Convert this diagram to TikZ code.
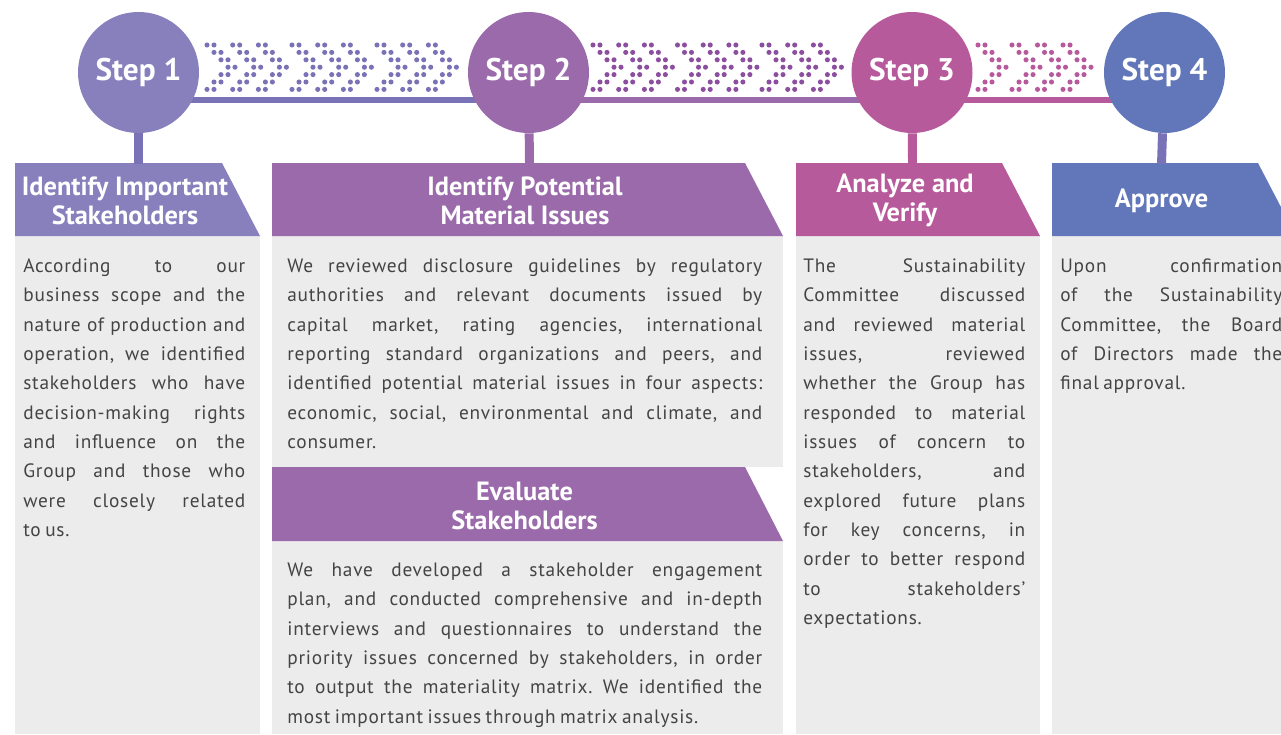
\documentclass[tikz,border=0pt]{standalone}
\usepackage{fontspec}
\setmainfont{PT Sans}
\newfontfamily\bodyfont[LetterSpace=4,WordSpace=0.75]{PT Sans}
\usetikzlibrary{positioning}
\definecolor{stepA}{HTML}{8780BD}
\definecolor{lineA}{HTML}{7A72B6}
\definecolor{stepB}{HTML}{9A6AAB}
\definecolor{dotB}{HTML}{8C4F9F}
\definecolor{stepC}{HTML}{B75A9B}
\definecolor{stepD}{HTML}{6177B9}
\definecolor{boxgray}{HTML}{ECECEC}
\definecolor{bodygray}{HTML}{444444}
\newcommand{\bodyfmt}{\bodyfont\fontsize{11}{16.7}\selectfont\frenchspacing\tolerance 10000 \hyphenpenalty 10000 }
\tikzset{
	stepcirc/.style={circle, minimum size=2.42cm, inner sep=0pt, text=white, font=\fontsize{17.8}{17.8}\selectfont\bfseries},
	headtext/.style={align=center, text=white, inner sep=0pt, font=\fontsize{15}{16.5}\selectfont\bfseries},
	bodytext/.style={anchor=base west, inner sep=0pt, align=justify, text=bodygray, text width=4.44cm, font=\bodyfmt},
	link/.style={line width=3.4pt},
	stem/.style={line width=5.1pt}
}
\newcommand{\dotchev}[2]{%
	\foreach \k in {0,...,6} {
		\pgfmathsetmacro{\m}{3-abs(\k-3)}
		\fill[#2] (#1+7*\m,45+7.4*\k) circle (1.45pt) (#1+7*\m+7,45+7.4*\k) circle (1.45pt);
	}}

\begin{document}
\begin{tikzpicture}[x=0.02cm, y=-0.02cm]
		\useasboundingbox (0,0) rectangle (1281,734);
		\clip (0,0) rectangle (1281,734);

		\fill[boxgray] (15,236) rectangle (260,734);
		\fill[boxgray] (272,236) rectangle (783,467);
		\fill[boxgray] (272,541) rectangle (783,734);
		\fill[boxgray] (796,236) rectangle (1040,734);
		\fill[boxgray] (1052,236) rectangle (1281,734);

		\fill[stepA] (15,163) -- (222,163) -- (260,236) -- (15,236) -- cycle;
		\fill[stepB] (272,163) -- (745,163) -- (783,236) -- (272,236) -- cycle;
		\fill[stepB] (272,467) -- (745,467) -- (783,541) -- (272,541) -- cycle;
		\fill[stepC] (796,163) -- (1002,163) -- (1040,236) -- (796,236) -- cycle;
		\fill[stepD] (1052,163) -- (1258,163) -- (1296,236) -- (1052,236) -- cycle;

		\coordinate (a1) at (138.5,100);
		\coordinate (a2) at (528.5,100);
		\coordinate (a3) at (912,100);
		\coordinate (a4) at (1164.5,100);
		\draw[link, lineA] (a1) -- (a2);
		\draw[link, stepB] (a2) -- (a3);
		\draw[link, stepC] (a3) -- (a4);

		\foreach \g in {0,1,2} \foreach \c in {0,1,2} {\dotchev{207+85*\g+25.7*\c}{lineA}}
		\foreach \g in {0,1,2} \foreach \c in {0,1,2} {\dotchev{593+84.5*\g+25.7*\c}{dotB}}
		\foreach \x in {978,1012,1037.5,1063} {\dotchev{\x}{stepC}}

		\node[stepcirc, fill=stepA] (s1) at (138.5,72.5) {Step 1};
		\node[stepcirc, fill=stepB] (s2) at (528.5,72.5) {Step 2};
		\node[stepcirc, fill=stepC] (s3) at (912,72.5) {Step 3};
		\node[stepcirc, fill=stepD] (s4) at (1164.5,72.5) {Step 4};

		\coordinate (t1) at (138.5,164);
		\coordinate (t2) at (529.5,164);
		\coordinate (t3) at (912.5,164);
		\coordinate (t4) at (1161.5,164);
		\draw[stem, lineA] (s1) -- (t1);
		\draw[stem, stepB] (s2) -- (t2);
		\draw[stem, stepC] (s3) -- (t3);
		\draw[stem, lineA] (s4) -- (t4);

		\node[headtext] (h1) at (125,200.5) {Identify Important\\Stakeholders};
		\node[headtext] (h2) at (525,200.5) {Identify Potential\\Material Issues};
		\node[headtext] (h3) at (905,200.5) {Analyze and\\Verify};
		\node[headtext] (h4) at (1161.5,201) {Approve};
		\node[headtext] (h5) at (524.5,505.5) {Evaluate\\Stakeholders};

		\node[bodytext] (b1) at (23,272.5) {According to our\linebreak
			business scope and the\linebreak
			nature of production and\linebreak
			operation, we identified\linebreak
			stakeholders who have\linebreak
			decision-making rights\linebreak
			and influence on the\linebreak
			Group and those who\linebreak
			were closely related\linebreak
			to us.};
		\node[bodytext, text width=9.5cm] (b2) at (287,272.5) {We reviewed disclosure guidelines by regulatory\linebreak
			authorities and relevant documents issued by\linebreak
			capital market, rating agencies, international\linebreak
			reporting standard organizations and peers, and\linebreak
			identified potential material issues in four aspects:\linebreak
			economic, social, environmental and climate, and\linebreak
			consumer.};
		\node[bodytext, text width=9.5cm] (b3) at (287,576.5) {We have developed a stakeholder engagement\linebreak
			plan, and conducted comprehensive and in-depth\linebreak
			interviews and questionnaires to understand the\linebreak
			priority issues concerned by stakeholders, in order\linebreak
			to output the materiality matrix. We identified the\linebreak
			most important issues through matrix analysis.};
		\node[bodytext] (b4) at (803,272.5) {The Sustainability\linebreak
			Committee discussed\linebreak
			and reviewed material\linebreak
			issues, reviewed\linebreak
			whether the Group has\linebreak
			responded to material\linebreak
			issues of concern to\linebreak
			stakeholders, and\linebreak
			explored future plans\linebreak
			for key concerns, in\linebreak
			order to better respond\linebreak
			to stakeholders’\linebreak
			expectations.};
		\node[bodytext] (b5) at (1060,272.5) {Upon confirmation\linebreak
			of the Sustainability\linebreak
			Committee, the Board\linebreak
			of Directors made the\linebreak
			final approval.};
	\end{tikzpicture}
\end{document}
